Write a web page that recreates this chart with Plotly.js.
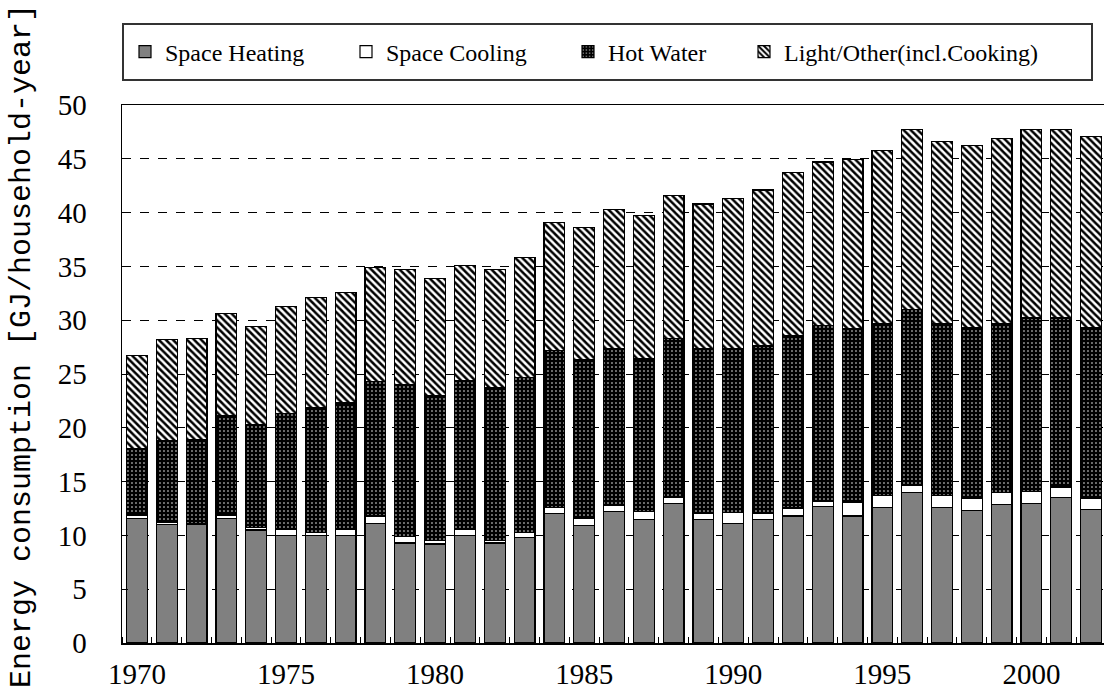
<!DOCTYPE html>
<html>
<head>
<meta charset="utf-8">
<script src="https://cdn.plot.ly/plotly-3.0.1.min.js"></script>
<style>
html,body{margin:0;padding:0;background:#fff;overflow:hidden;width:1104px;height:693px;}
#chart{width:1108px;height:693px;}
</style>
</head>
<body>
<div id="chart"></div>
<script>
const years = [1970,1971,1972,1973,1974,1975,1976,1977,1978,1979,1980,1981,1982,1983,1984,1985,1986,1987,1988,1989,1990,1991,1992,1993,1994,1995,1996,1997,1998,1999,2000,2001,2002];
const spaceHeating = [11.6,11.0,11.0,11.6,10.5,10.0,10.0,10.0,11.1,9.3,9.2,10.0,9.3,9.8,12.05,10.95,12.2,11.5,13.0,11.5,11.1,11.5,11.8,12.65,11.8,12.6,14.0,12.6,12.3,12.9,13.0,13.5,12.4];
const spaceCooling = [0.3,0.2,0.1,0.3,0.2,0.6,0.3,0.6,0.7,0.6,0.3,0.6,0.25,0.45,0.55,0.65,0.6,0.7,0.5,0.55,1.0,0.55,0.75,0.55,1.3,1.1,0.65,1.1,1.1,1.1,1.1,1.0,1.0];
const hotWater = [6.2,7.6,7.8,9.2,9.6,10.7,11.6,11.7,12.5,14.1,13.5,13.8,14.15,14.45,14.6,14.7,14.6,14.2,14.8,15.35,15.3,15.55,16.05,16.3,16.1,16.0,16.35,16.0,15.9,15.7,16.1,15.7,15.9];
const lightOther = [8.6,9.4,9.4,9.5,9.1,10.0,10.2,10.3,10.6,10.7,10.9,10.7,11.0,11.1,11.9,12.3,12.9,13.3,13.3,13.4,13.9,14.5,15.1,15.2,15.7,16.1,16.7,16.9,16.9,17.2,17.5,17.5,17.8];
const seriesNames = ["Space Heating","Space Cooling","Hot Water","Light/Other(incl.Cooking)"];
const yTitle = "Energy consumption [GJ/household-year]";

const outline = {color:"#000", width:1.2};
const serif = "Liberation Serif, Times New Roman, serif";

const traces = [
  {type:"bar", name:seriesNames[0], x:years, y:spaceHeating, legend:"legend",
   marker:{color:"#808080", line:outline}},
  {type:"bar", name:seriesNames[1], x:years, y:spaceCooling, legend:"legend2",
   marker:{color:"#ffffff", line:outline}},
  {type:"bar", name:seriesNames[2], x:years, y:hotWater, legend:"legend3",
   marker:{color:"#000000", line:outline,
     pattern:{shape:".", bgcolor:"#000000", fgcolor:"#ffffff", size:4, solidity:0.12, fillmode:"replace"}}},
  {type:"bar", name:seriesNames[3], x:years, y:lightOther, legend:"legend4",
   marker:{color:"#ffffff", line:outline,
     pattern:{shape:"\\", bgcolor:"#ffffff", fgcolor:"#000000", size:5, solidity:0.5, fillmode:"replace"}}}
];

const plotL = 122, plotW = 984, plotB = 643, plotH = 538;
function px(xp){ return (xp - plotL)/plotW; }
function py(yp){ return (plotB - yp)/plotH; }

const legFont = {family:serif, size:24, color:"#000"};
function leg(xText){
  return {orientation:"h", x:px(xText-44), xanchor:"left", y:py(52), yanchor:"middle",
          bgcolor:"rgba(0,0,0,0)", borderwidth:0, font:legFont, itemclick:false, itemdoubleclick:false};
}

const layout = {
  width:1108, height:693,
  margin:{l:plotL, r:2, t:105, b:50},
  paper_bgcolor:"#fff", plot_bgcolor:"#fff",
  barmode:"stack", bargap:0.3,
  showlegend:true,
  legend:leg(169), legend2:leg(390), legend3:leg(612), legend4:leg(788),
  xaxis:{
    range:[1969.5, 2002.5], tick0:1970, dtick:5, ticks:"", showgrid:false, zeroline:false,
    showline:true, mirror:true, linecolor:"#000", linewidth:1.5,
    tickfont:{family:serif, size:29, color:"#000"}, ticklabelstandoff:5,
    minor:{tick0:1969.5, dtick:1, ticks:"inside", ticklen:6, tickcolor:"#000", tickwidth:1, showgrid:false}
  },
  yaxis:{
    range:[0,50], dtick:5, ticks:"inside", ticklen:6, tickcolor:"#000",
    showgrid:true, gridcolor:"#000", gridwidth:1, griddash:"dash", zeroline:false,
    showline:true, mirror:true, linecolor:"#000", linewidth:1.5,
    tickfont:{family:serif, size:29, color:"#000"}, ticklabelstandoff:28
  },
  shapes:[
    {type:"rect", xref:"paper", yref:"paper", x0:px(123), x1:px(1092), y0:py(80), y1:py(24),
     line:{color:"#333", width:2}, fillcolor:"rgba(0,0,0,0)"}
  ],
  annotations:[
    {text:yTitle, xref:"paper", yref:"paper", x:px(22), y:py(346), xanchor:"center", yanchor:"middle",
     textangle:-90, showarrow:false, font:{family:"Liberation Mono, Courier New, monospace", size:30, color:"#000"}}
  ]
};

Plotly.newPlot("chart", traces, layout, {displayModeBar:false, staticPlot:true});
</script>
</body>
</html>
